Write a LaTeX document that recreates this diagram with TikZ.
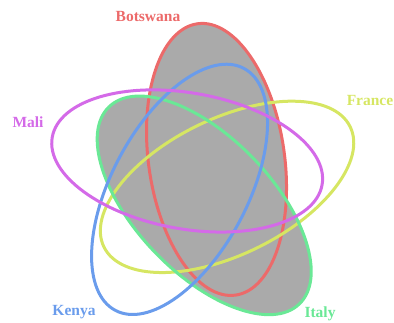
\documentclass[tikz,border=0pt]{standalone}
\usepackage{fontspec}
\setmainfont{Liberation Serif}
\usepackage{xcolor}
\usepackage{tikz}
\definecolor{SetBotswana}{HTML}{EC6A6A}
\definecolor{SetMali}{HTML}{D46AE8}
\definecolor{SetKenya}{HTML}{6A9CEC}
\definecolor{SetItaly}{HTML}{6AE896}
\definecolor{SetFrance}{HTML}{D6E662}
\definecolor{RegionShade}{HTML}{AAAAAA}

\begin{document}
\begin{tikzpicture}[
  x=1pt,y=1pt,
  setline/.style={line width=3pt},
  setlabel/.style={font=\fontsize{15.5}{18}\selectfont\bfseries,inner sep=0pt},
]
  \useasboundingbox (0,0) rectangle (394,322);
  \coordinate (hub) at (202.9,141.6);

  % shaded region: Botswana and Italy
  \foreach \ang in {57,273}
    \fill[RegionShade] (hub) ++(\ang:25)
      ellipse[x radius=137,y radius=68,rotate=\ang+41];

  % outlines of the five sets
  \foreach \ang/\col in {57/SetBotswana,345/SetFrance,273/SetItaly,201/SetKenya,129/SetMali}
    \draw[setline,\col] (hub) ++(\ang:25)
      ellipse[x radius=137,y radius=68,rotate=\ang+41];

  \node[setlabel,text=SetBotswana] (botswana) at (148,305) {Botswana};
  \node[setlabel,text=SetFrance]   (france)   at (370,221) {France};
  \node[setlabel,text=SetItaly]    (italy)    at (320,8)   {Italy};
  \node[setlabel,text=SetKenya]    (kenya)    at (74,10)   {Kenya};
  \node[setlabel,text=SetMali]     (mali)     at (28,200)  {Mali};
\end{tikzpicture}
\end{document}
